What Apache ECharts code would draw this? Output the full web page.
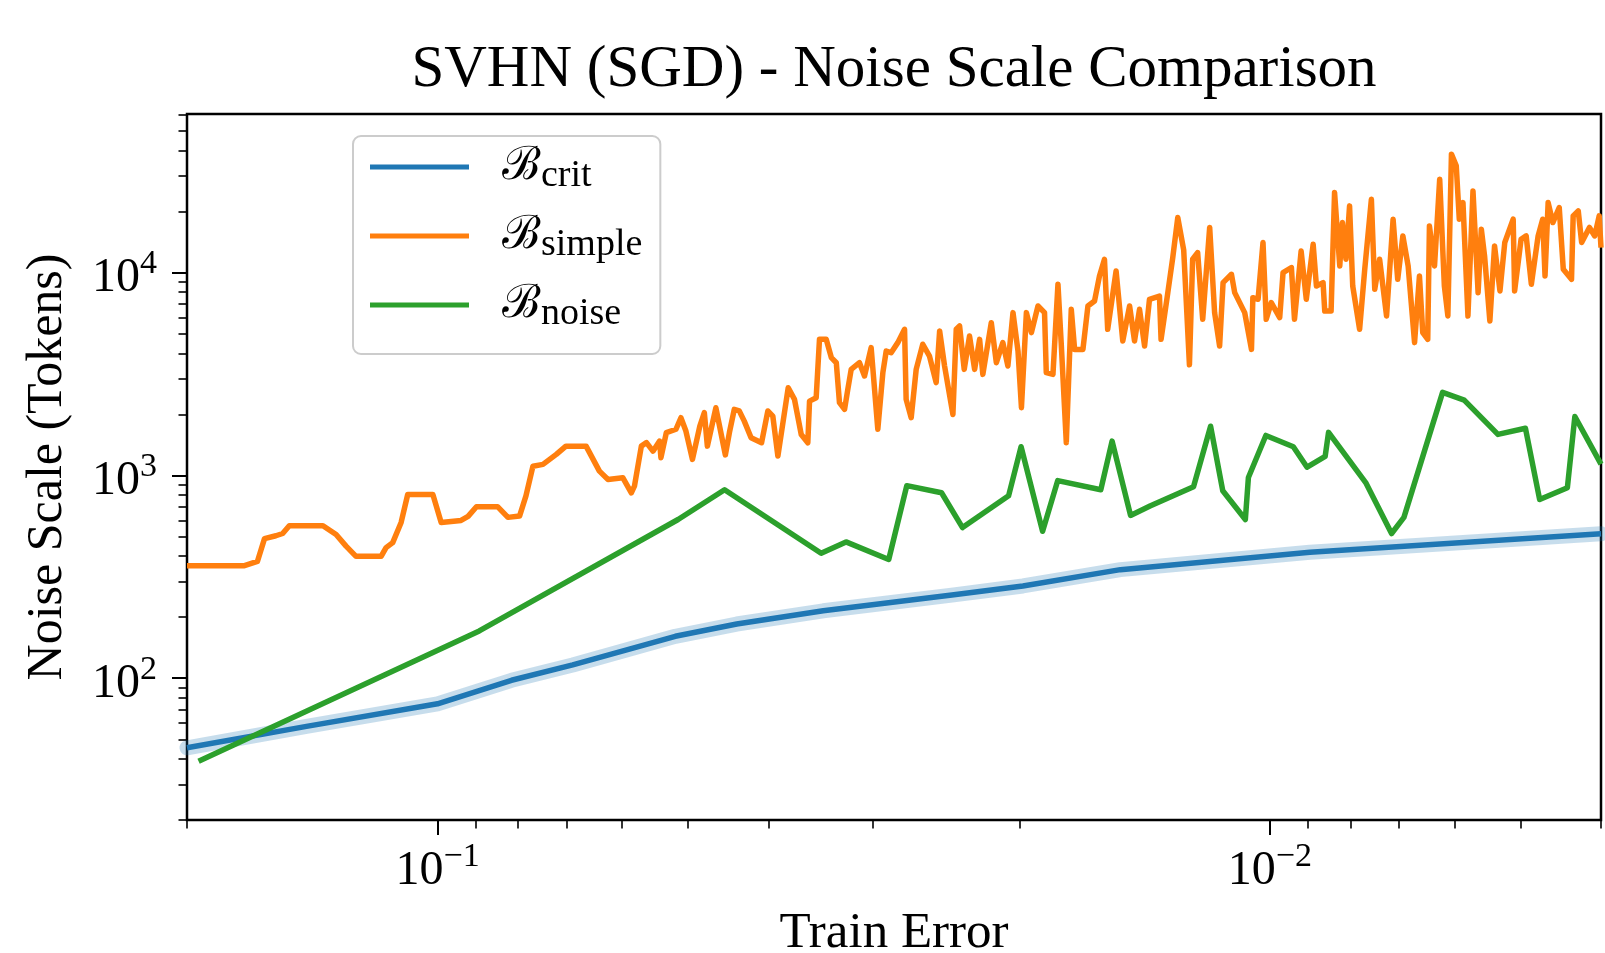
<!DOCTYPE html>
<html>
<head>
<meta charset="utf-8">
<script src="https://cdn.jsdelivr.net/npm/echarts@6/dist/echarts.min.js"></script>
<style>
html,body{margin:0;padding:0;background:#ffffff;}
#chart{width:1605px;height:953px;}
</style>
</head>
<body>
<div id="chart"></div>
<script>
// ---------------- data ----------------
const critX = [0.2, 0.1437, 0.1, 0.0815, 0.0688, 0.0518, 0.0437, 0.0344, 0.0241, 0.0198, 0.01512, 0.00895, 0.004];
const critY = [45.4, 57.9, 74.8, 97.7, 116.3, 161, 185, 215, 257, 285, 343, 418, 515];

const noiseX = [0.1937, 0.0891, 0.0514, 0.0452, 0.0346, 0.0323, 0.0287, 0.0273, 0.0248, 0.0234,
  0.0206, 0.0199, 0.01875, 0.01798, 0.01596, 0.01547, 0.0147, 0.01393, 0.01235, 0.01178,
  0.01139, 0.0107, 0.01061, 0.01011, 0.00937, 0.00902, 0.00858, 0.0085, 0.00767, 0.00714,
  0.0069, 0.0062, 0.00584, 0.00532, 0.00493, 0.00474, 0.00439, 0.0043, 0.004];
const noiseY = [39, 171, 606, 850, 413, 470, 385, 890, 821, 553,
  793, 1385, 530, 943, 850, 1476, 635, 706, 880, 1748,
  840, 606, 977, 1574, 1385, 1098, 1240, 1630, 922, 517,
  621, 2566, 2351, 1592, 1708, 761, 870, 1952, 1137];

const simpleX = [
  0.2, 0.1706, 0.1646, 0.1614, 0.1564, 0.1535, 0.1507, 0.1373, 0.1324, 0.1288,
  0.1253, 0.1169, 0.1153, 0.1132, 0.1106, 0.1086, 0.1013, 0.099, 0.0937, 0.0919,
  0.0898, 0.0847, 0.0823, 0.0797, 0.0783, 0.0768, 0.0747, 0.072, 0.0701, 0.0663,
  0.0639, 0.0624, 0.0599, 0.0585, 0.058, 0.0569, 0.0561, 0.0551, 0.0541, 0.0539,
  0.0531, 0.0517, 0.051, 0.0503, 0.0494, 0.0484, 0.0478, 0.0474, 0.0463, 0.0451,
  0.0446, 0.044, 0.0434, 0.0428, 0.042, 0.0408, 0.0401, 0.03955, 0.039, 0.0379,
  0.03725, 0.03656, 0.0359, 0.03573, 0.03508, 0.03476, 0.03412, 0.03364, 0.03318, 0.03289,
  0.03243, 0.03214, 0.03184, 0.03112, 0.03069, 0.03013, 0.02958, 0.02917, 0.0289, 0.02851,
  0.02799, 0.02747, 0.02735, 0.02697, 0.0266, 0.02612, 0.02564, 0.02517, 0.02493, 0.02459,
  0.02403, 0.02381, 0.02359, 0.02329, 0.02295, 0.02263, 0.02232, 0.02212, 0.02161, 0.02131,
  0.02093, 0.02064, 0.02035, 0.02007, 0.01988, 0.01961, 0.01934, 0.01899, 0.01865, 0.01856,
  0.01822, 0.01797, 0.01781, 0.01756, 0.01732, 0.01716, 0.01677, 0.01654, 0.01624, 0.01602,
  0.0158, 0.01566, 0.0153, 0.01502, 0.01474, 0.01454, 0.01434, 0.01414, 0.01395, 0.01357,
  0.01351, 0.01326, 0.01308, 0.0129, 0.01269, 0.01249, 0.01238, 0.01221, 0.01204, 0.01181,
  0.01165, 0.01149, 0.01138, 0.01112, 0.01102, 0.01072, 0.01052, 0.01048, 0.01033, 0.01019,
  0.0101, 0.00996, 0.00973, 0.00964, 0.00942, 0.00934, 0.00917, 0.00904, 0.00887, 0.00879,
  0.00863, 0.00859, 0.00844, 0.00836, 0.00824, 0.00818, 0.0081, 0.00802, 0.00795, 0.0078,
  0.00769, 0.00755, 0.00748, 0.00738, 0.00724, 0.00711, 0.00702, 0.00692, 0.00682, 0.0067,
  0.00661, 0.00655, 0.00646, 0.00643, 0.00634, 0.00625, 0.00617, 0.00611, 0.00605, 0.00597,
  0.00592, 0.00586, 0.00578, 0.0057, 0.00562, 0.00557, 0.00552, 0.00544, 0.00537, 0.00529,
  0.00522, 0.0051, 0.00508, 0.00499, 0.00492, 0.00485, 0.00476, 0.0047, 0.00467, 0.00463,
  0.00457, 0.00449, 0.00444, 0.00434, 0.00432, 0.00426, 0.00422, 0.00413, 0.00407, 0.00402,
  0.004];
const simpleY = [
  359, 359, 376.5, 488, 504, 517, 565, 565, 511, 448,
  399, 399, 440.5, 466, 586, 805, 805, 586, 600, 628,
  701, 701, 621, 630, 792, 1110, 1133, 1269, 1394, 1394,
  1050, 955, 974, 821, 885, 1394, 1451, 1317, 1476, 1222,
  1624, 1688, 1925, 1654, 1199, 1750, 2038, 1394, 2154, 1262,
  1624, 2115, 2081, 1852, 1534, 1449, 2076, 1961, 1245, 2706,
  2370, 1592, 1449, 2324, 2415, 4685, 4685, 3808, 3594, 2283,
  2115, 2656, 3332, 3594, 3090, 4264, 1688, 3211, 4103, 4028,
  4514, 5252, 2370, 1925, 3332, 4431, 3876, 2865, 5155, 3458,
  1998, 5252, 5451, 3332, 4864, 3332, 4685, 3148, 5662, 3594,
  4514, 3462, 6346, 4103, 2157, 6346, 5058, 6845, 6346, 3211,
  3148, 8758, 4514, 1449, 6587, 4180, 4180, 6845, 7237, 9623,
  11630, 5252, 10190, 4599, 6845, 4599, 6587, 4344, 7382, 7661,
  4685, 7962, 11850, 18670, 12920, 3512, 11630, 12550, 5884, 16680,
  6346, 4344, 8923, 9804, 7962, 6346, 4180, 7520, 7382, 14060,
  5884, 7112, 5995, 10000, 10590, 5884, 12780, 7382, 13790, 8585,
  8923, 6466, 6466, 24800, 10770, 17640, 11630, 21320, 8585, 5252,
  10380, 22990, 8275, 11630, 6107, 18330, 9262, 15160, 10780, 4514,
  9623, 5058, 4685, 16970, 10780, 28850, 8585, 6107, 38350, 33600,
  18330, 22130, 6107, 25270, 7962, 16360, 12070, 5769, 13530, 8111,
  14060, 18330, 8111, 14590, 15160, 8758, 15160, 18330, 9623, 22130,
  17640, 20930, 10380, 9262, 19030, 20140, 14060, 16680, 15160, 19030,
  13280];

// ---------------- axes: range and tick labels ----------------
const X_MIN = 0.004, X_MAX = 0.2;
const Y_MIN = 20, Y_MAX = 60500;
const xMajorTicks = [0.1, 0.01];
const xTickExponents = ['\u22121', '\u22122'];
const yMajorTicks = [100, 1000, 10000];
const yTickExponents = ['2', '3', '4'];
const xMinorTicks = [0.2, 0.09, 0.08, 0.07, 0.06, 0.05, 0.04, 0.03, 0.02,
  0.009, 0.008, 0.007, 0.006, 0.005, 0.004];
const yMinorTicks = [20, 30, 40, 50, 60, 70, 80, 90,
  200, 300, 400, 500, 600, 700, 800, 900,
  2000, 3000, 4000, 5000, 6000, 7000, 8000, 9000,
  20000, 30000, 40000, 50000, 60000];
const seriesNames = ['B_crit', 'B_simple', 'B_noise'];
const colors = ['#1f77b4', '#ff7f0e', '#2ca02c'];

// ---------------- build ----------------
const zip = (xs, ys) => xs.map((x, i) => [x, ys[i]]);
const lg = v => Math.log10(v);
const xMajorLog = xMajorTicks.map(lg), yMajorLog = yMajorTicks.map(lg);
const xMinorLog = xMinorTicks.map(lg), yMinorLog = yMinorTicks.map(lg);
const SERIF = 'Liberation Serif';
const black = '#000000';
const LW = 5.5;

const labelRich = {
  n: { fontFamily: SERIF, fontSize: 48, color: black },
  p: { fontFamily: SERIF, fontSize: 34, color: black, padding: [0, 0, 28, 0] }
};
const findIdx = (arr, v) => arr.findIndex(t => Math.abs(t - v) < 1e-6);

const decoX = (extra) => Object.assign({
  type: 'value', gridIndex: 0, position: 'bottom', inverse: true,
  min: lg(X_MIN), max: lg(X_MAX),
  axisLine: { show: false, onZero: false }, splitLine: { show: false }
}, extra);
const decoY = (extra) => Object.assign({
  type: 'value', gridIndex: 0, position: 'left',
  min: lg(Y_MIN), max: lg(Y_MAX),
  axisLine: { show: false, onZero: false }, splitLine: { show: false }
}, extra);

const option = {
  animation: false,
  backgroundColor: '#ffffff',
  title: {
    text: 'SVHN (SGD) - Noise Scale Comparison',
    left: 894, top: 41, textAlign: 'center', padding: 0,
    textStyle: { fontFamily: SERIF, fontSize: 59, fontWeight: 'normal', color: black }
  },
  grid: {
    left: 187, right: 4, top: 114, bottom: 133,
    containLabel: false, outerBoundsMode: 'none',
    show: true, borderColor: black, borderWidth: 2.5, backgroundColor: 'transparent'
  },
  legend: {
    data: seriesNames,
    orient: 'vertical', left: 353, top: 136,
    padding: [8, 18, 21, 17],
    itemGap: 18, itemWidth: 99, itemHeight: 5, icon: 'rect',
    backgroundColor: 'rgba(255,255,255,0.8)',
    borderColor: '#cccccc', borderWidth: 2, borderRadius: 8,
    selectedMode: false,
    formatter: name => '{b|\u212C}{s|' + name.split('_')[1] + '}',
    textStyle: {
      rich: {
        b: { fontFamily: 'DejaVu Serif', fontSize: 46, color: black, padding: [0, 0, 0, 28] },
        s: { fontFamily: SERIF, fontSize: 38, color: black, padding: [18, 0, 0, 0] }
      }
    }
  },
  xAxis: [
    { type: 'log', gridIndex: 0, min: X_MIN, max: X_MAX, inverse: true, show: false },
    decoX({
      name: 'Train Error', nameLocation: 'middle', nameGap: 88,
      nameTextStyle: { fontFamily: SERIF, fontSize: 51, color: black },
      axisTick: { show: true, customValues: xMajorLog, length: 15, lineStyle: { color: black, width: 2 } },
      axisLabel: {
        show: true, customValues: xMajorLog, margin: 20,
        formatter: v => '{n|10}{p|' + xTickExponents[findIdx(xMajorLog, v)] + '}',
        rich: labelRich
      }
    }),
    decoX({
      axisTick: { show: true, customValues: xMinorLog, length: 8.5, lineStyle: { color: black, width: 1.6 } },
      axisLabel: { show: false }
    })
  ],
  yAxis: [
    { type: 'log', gridIndex: 0, min: Y_MIN, max: Y_MAX, show: false },
    decoY({
      name: 'Noise Scale (Tokens)', nameLocation: 'middle', nameGap: 114, nameRotate: 90,
      nameTextStyle: { fontFamily: SERIF, fontSize: 50, color: black },
      axisTick: { show: true, customValues: yMajorLog, length: 15, lineStyle: { color: black, width: 2 } },
      axisLabel: {
        show: true, customValues: yMajorLog, margin: 30, padding: [12, 0, 0, 0],
        formatter: v => '{n|10}{p|' + yTickExponents[findIdx(yMajorLog, v)] + '}',
        rich: labelRich
      }
    }),
    decoY({
      axisTick: { show: true, customValues: yMinorLog, length: 8.5, lineStyle: { color: black, width: 1.6 } },
      axisLabel: { show: false }
    })
  ],
  series: [
    {
      name: 'B_crit_band', type: 'line', xAxisIndex: 0, yAxisIndex: 0,
      data: zip(critX, critY), symbol: 'none', silent: true, z: 1,
      lineStyle: { width: 15, color: colors[0], opacity: 0.25, join: 'round', cap: 'round' }
    },
    {
      name: 'B_crit', type: 'line', xAxisIndex: 0, yAxisIndex: 0,
      data: zip(critX, critY), symbol: 'none', z: 2,
      itemStyle: { color: colors[0] },
      lineStyle: { width: LW, color: colors[0], join: 'round' }
    },
    {
      name: 'B_simple', type: 'line', xAxisIndex: 0, yAxisIndex: 0,
      data: zip(simpleX, simpleY), symbol: 'none', z: 3,
      itemStyle: { color: colors[1] },
      lineStyle: { width: LW, color: colors[1], join: 'round' }
    },
    {
      name: 'B_noise', type: 'line', xAxisIndex: 0, yAxisIndex: 0,
      data: zip(noiseX, noiseY), symbol: 'none', z: 4,
      itemStyle: { color: colors[2] },
      lineStyle: { width: LW, color: colors[2], join: 'round' }
    }
  ]
};

const chart = echarts.init(document.getElementById('chart'), null, { renderer: 'canvas' });
chart.setOption(option);
</script>
</body>
</html>
